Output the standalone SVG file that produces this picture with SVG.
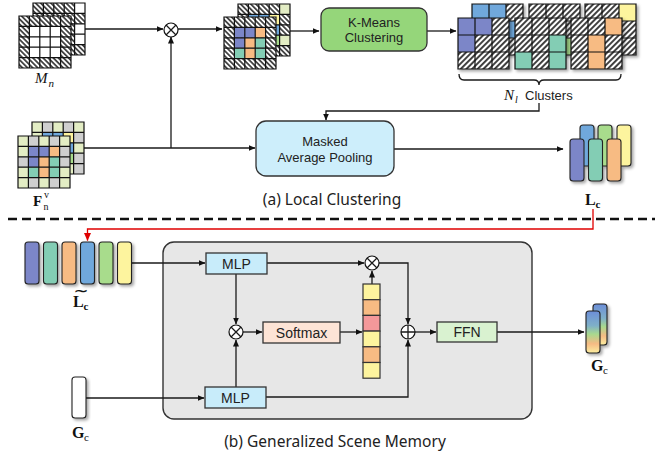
<svg xmlns="http://www.w3.org/2000/svg" xmlns:xlink="http://www.w3.org/1999/xlink" width="662" height="458" viewBox="0 0 662 458">
  <style>
    .ln { fill: none; stroke: #1a1a1a; stroke-width: 1.3; }
    .red { fill: none; stroke: #e00000; stroke-width: 1.3; }
    .box { stroke: #333; stroke-width: 1.3; }
    .sans { font-family: "Liberation Sans", Arial, sans-serif; fill: #222; }
    .cap { font-family: "Noto Sans", "Liberation Sans", sans-serif; fill: #222; }
    .math { font-family: "Liberation Serif", "Times New Roman", serif; fill: #111; }
    .col { stroke: #222; stroke-width: 1.1; }
    .grid { fill: none; stroke: #111; stroke-width: 1.2; }
    .op { fill: #fff; stroke: #111; stroke-width: 1.2; }
  </style>
  <defs>
    <pattern id="hatchA" width="3.6" height="3.6" patternUnits="userSpaceOnUse" patternTransform="rotate(-45)">
      <rect width="3.6" height="3.6" fill="#fff"/>
      <line x1="1.8" y1="0" x2="1.8" y2="3.6" stroke="#111" stroke-width="1.4"/>
    </pattern>
    <pattern id="hatchB" width="4" height="4" patternUnits="userSpaceOnUse" patternTransform="rotate(45)">
      <rect width="4" height="4" fill="#fff"/>
      <line x1="2" y1="0" x2="2" y2="4" stroke="#111" stroke-width="1.6"/>
    </pattern>
    <linearGradient id="gcGrad" x1="0" y1="0" x2="0" y2="1">
      <stop offset="0" stop-color="#6c8ed8"/>
      <stop offset="0.35" stop-color="#7fb0c8"/>
      <stop offset="0.55" stop-color="#a8d98e"/>
      <stop offset="0.78" stop-color="#f6bb84"/>
      <stop offset="1" stop-color="#fbeea0"/>
    </linearGradient>
    <filter id="sh" x="-30%" y="-30%" width="160%" height="160%">
      <feDropShadow dx="2" dy="2" stdDeviation="1.6" flood-color="#000" flood-opacity="0.35"/>
    </filter>
    <marker id="ar" markerWidth="7" markerHeight="6" refX="6.5" refY="3" orient="auto" markerUnits="userSpaceOnUse">
      <path d="M0,0 L7,3 L0,6 z" fill="#111"/>
    </marker>
    <marker id="arR" markerWidth="8" markerHeight="7" refX="7.5" refY="3.5" orient="auto" markerUnits="userSpaceOnUse">
      <path d="M0,0 L8,3.5 L0,7 z" fill="#e00000"/>
    </marker>
    <path id="g5" d="M0,0h52v52h-52z M10.4,0v52 M20.8,0v52 M31.2,0v52 M41.6,0v52 M0,10.4h52 M0,20.8h52 M0,31.2h52 M0,41.6h52"/>
    <path id="g3" d="M0,0h51v51h-51z M17,0v51 M34,0v51 M0,17h51 M0,34h51"/>
  </defs>

  <rect width="662" height="458" fill="#fff"/>

  <!-- generalized scene memory panel (drawn under its wiring) -->
  <g id="memory">
    <rect x="163" y="242" width="369" height="177" rx="11" fill="#e7e7e7" stroke="#333" stroke-width="1.4"/>
  </g>

  <!-- connectors -->
  <g id="connectors">
    <!-- local clustering -->
    <path class="ln" d="M85,29 H163" marker-end="url(#ar)"/>
    <path class="ln" d="M178,29 H222" marker-end="url(#ar)"/>
    <path class="ln" d="M83,148 H255" marker-end="url(#ar)"/>
    <path class="ln" d="M171,148 V37" marker-end="url(#ar)"/>
    <path class="ln" d="M290,31 H319" marker-end="url(#ar)"/>
    <path class="ln" d="M427,31 H456" marker-end="url(#ar)"/>
    <path class="ln" d="M539,103 V111 H326 V120" marker-end="url(#ar)"/>
    <path class="ln" d="M394,149 H563" marker-end="url(#ar)"/>
    <!-- cluster tokens into the scene memory -->
    <path class="red" d="M593,209 V229 H87.5 V240.5" marker-end="url(#arR)"/>
    <!-- generalized scene memory -->
    <path class="ln" d="M131,263 H205" marker-end="url(#ar)"/>
    <path class="ln" d="M86,398 H204" marker-end="url(#ar)"/>
    <path class="ln" d="M267,263 H364" marker-end="url(#ar)"/>
    <path class="ln" d="M236,274 V324" marker-end="url(#ar)"/>
    <path class="ln" d="M236,387 V340" marker-end="url(#ar)"/>
    <path class="ln" d="M243,332 H262" marker-end="url(#ar)"/>
    <path class="ln" d="M340,332 H362" marker-end="url(#ar)"/>
    <path class="ln" d="M372,284 V271" marker-end="url(#ar)"/>
    <path class="ln" d="M379,263 H408 V324" marker-end="url(#ar)"/>
    <path class="ln" d="M266,397 H408 V340" marker-end="url(#ar)"/>
    <path class="ln" d="M415,332 H436" marker-end="url(#ar)"/>
    <path class="ln" d="M497,332 H584" marker-end="url(#ar)"/>
  </g>

  <!-- section divider -->
  <line x1="8" y1="219" x2="655" y2="219" stroke="#111" stroke-width="2.5" stroke-dasharray="9 5"/>

  <!-- mask M_n -->
  <g id="mask">
    <g transform="translate(33,3)">
      <rect width="52" height="52" fill="url(#hatchA)"/>
      <rect x="41.6" y="0" width="10.4" height="10.4" fill="#fff"/>
      <rect x="41.6" y="20.8" width="10.4" height="20.8" fill="#fff"/>
      <use href="#g5" class="grid"/>
    </g>
    <g transform="translate(19,16)">
      <rect width="52" height="52" fill="url(#hatchA)"/>
      <rect x="10.4" y="10.4" width="31.2" height="31.2" fill="#fff"/>
      <use href="#g5" class="grid"/>
    </g>
    <text class="math" x="35" y="83" font-size="15" font-style="italic">M</text>
    <text class="math" x="48.5" y="87" font-size="11" font-style="italic">n</text>
  </g>

  <!-- multiply op -->
  <g id="mul-top">
    <circle class="op" cx="171" cy="30" r="7"/>
    <path class="ln" d="M166,25 L176,35 M176,25 L166,35" stroke-width="1.1"/>
  </g>

  <!-- masked features -->
  <g id="masked-features">
    <g transform="translate(238,4)">
      <rect width="52" height="52" fill="url(#hatchA)"/>
      <rect x="41.6" y="0" width="10.4" height="10.4" fill="#e3edc4"/>
      <rect x="41.6" y="31.2" width="10.4" height="10.4" fill="#e3edc4"/>
      <rect x="10.4" y="10.4" width="20.8" height="10.4" fill="#6fa8dc"/>
      <rect x="31.2" y="10.4" width="10.4" height="10.4" fill="#fdf49e"/>
      <rect x="31.2" y="20.8" width="10.4" height="10.4" fill="#6fa8dc"/>
      <rect x="31.2" y="31.2" width="10.4" height="10.4" fill="#a8dc8c"/>
      <use href="#g5" class="grid"/>
    </g>
    <g transform="translate(224,17)">
      <rect width="52" height="52" fill="url(#hatchA)"/>
      <rect x="10.4" y="10.4" width="10.4" height="10.4" fill="#7b86c8"/>
      <rect x="20.8" y="10.4" width="10.4" height="10.4" fill="#7b86c8"/>
      <rect x="31.2" y="10.4" width="10.4" height="10.4" fill="#f7bb83"/>
      <rect x="10.4" y="20.8" width="10.4" height="10.4" fill="#7b86c8"/>
      <rect x="20.8" y="20.8" width="10.4" height="10.4" fill="#f7bb83"/>
      <rect x="31.2" y="20.8" width="10.4" height="10.4" fill="#83cdb4"/>
      <rect x="10.4" y="31.2" width="10.4" height="10.4" fill="#83cdb4"/>
      <rect x="20.8" y="31.2" width="10.4" height="10.4" fill="#f7bb83"/>
      <rect x="31.2" y="31.2" width="10.4" height="10.4" fill="#83cdb4"/>
      <use href="#g5" class="grid"/>
    </g>
  </g>

  <!-- K-Means -->
  <g id="kmeans">
    <rect class="box" x="321" y="8" width="106" height="43" rx="8" fill="#95d67a"/>
    <text class="sans" x="374" y="27" font-size="13" text-anchor="middle">K-Means</text>
    <text class="sans" x="374" y="42" font-size="13" text-anchor="middle">Clustering</text>
  </g>

  <!-- clusters -->
  <g id="clusters">
    <g transform="translate(472,4)" filter="url(#sh)">
      <rect width="51" height="51" fill="url(#hatchB)"/>
      <rect x="0" y="0" width="34" height="17" fill="#6fa8dc"/>
      <rect x="34" y="17" width="17" height="17" fill="#6fa8dc"/>
      <use href="#g3" class="grid"/>
    </g>
    <g transform="translate(529,4)" filter="url(#sh)">
      <rect width="51" height="51" fill="url(#hatchB)"/>
      <rect x="34" y="34" width="17" height="17" fill="#a8dc8c"/>
      <use href="#g3" class="grid"/>
    </g>
    <g transform="translate(585,4)" filter="url(#sh)">
      <rect width="51" height="51" fill="url(#hatchB)"/>
      <rect x="34" y="0" width="17" height="17" fill="#fdf49e"/>
      <use href="#g3" class="grid"/>
    </g>
    <g transform="translate(458,18)" filter="url(#sh)">
      <rect width="51" height="51" fill="url(#hatchB)"/>
      <rect x="0" y="0" width="34" height="17" fill="#7b86c8"/>
      <rect x="0" y="17" width="17" height="17" fill="#7b86c8"/>
      <use href="#g3" class="grid"/>
    </g>
    <g transform="translate(515,18)" filter="url(#sh)">
      <rect width="51" height="51" fill="url(#hatchB)"/>
      <rect x="34" y="17" width="17" height="17" fill="#83cdb4"/>
      <rect x="0" y="34" width="17" height="17" fill="#83cdb4"/>
      <rect x="34" y="34" width="17" height="17" fill="#83cdb4"/>
      <use href="#g3" class="grid"/>
    </g>
    <g transform="translate(571,18)" filter="url(#sh)">
      <rect width="51" height="51" fill="url(#hatchB)"/>
      <rect x="34" y="0" width="17" height="17" fill="#f7bb83"/>
      <rect x="17" y="17" width="17" height="34" fill="#f7bb83"/>
      <use href="#g3" class="grid"/>
    </g>
    <path class="ln" d="M459,74 Q459,80 464,80 H534 Q539,80 539,85 Q539,80 544,80 H616 Q621,80 621,74"/>
    <text class="math" x="504" y="100" font-size="15" font-style="italic">N</text>
    <text class="math" x="515" y="103" font-size="10" font-style="italic">l</text>
    <text class="sans" x="525" y="100" font-size="13">Clusters</text>
  </g>

  <!-- visual features F_n^V -->
  <g id="features">
    <g transform="translate(32,122)">
      <rect width="52" height="52" fill="#e3edc4"/>
      <rect x="10.4" y="0" width="10.4" height="10.4" fill="#cfcfcf"/>
      <rect x="31.2" y="0" width="10.4" height="10.4" fill="#cfcfcf"/>
      <rect x="41.6" y="10.4" width="10.4" height="10.4" fill="#cfcfcf"/>
      <rect x="41.6" y="31.2" width="10.4" height="20.8" fill="#cfcfcf"/>
      <rect x="10.4" y="10.4" width="20.8" height="10.4" fill="#6fa8dc"/>
      <rect x="31.2" y="10.4" width="10.4" height="10.4" fill="#fdf49e"/>
      <rect x="31.2" y="20.8" width="10.4" height="10.4" fill="#6fa8dc"/>
      <rect x="31.2" y="31.2" width="10.4" height="10.4" fill="#a8dc8c"/>
      <use href="#g5" class="grid"/>
    </g>
    <g transform="translate(18,136)">
      <rect width="52" height="52" fill="#e3edc4"/>
      <rect x="10.4" y="0" width="10.4" height="10.4" fill="#cfcfcf"/>
      <rect x="31.2" y="0" width="10.4" height="10.4" fill="#cfcfcf"/>
      <rect x="41.6" y="10.4" width="10.4" height="20.8" fill="#cfcfcf"/>
      <rect x="0" y="20.8" width="10.4" height="10.4" fill="#cfcfcf"/>
      <rect x="10.4" y="41.6" width="10.4" height="10.4" fill="#cfcfcf"/>
      <rect x="31.2" y="41.6" width="10.4" height="10.4" fill="#cfcfcf"/>
      <rect x="10.4" y="10.4" width="10.4" height="10.4" fill="#7b86c8"/>
      <rect x="20.8" y="10.4" width="10.4" height="10.4" fill="#7b86c8"/>
      <rect x="31.2" y="10.4" width="10.4" height="10.4" fill="#f7bb83"/>
      <rect x="10.4" y="20.8" width="10.4" height="10.4" fill="#7b86c8"/>
      <rect x="20.8" y="20.8" width="10.4" height="10.4" fill="#f7bb83"/>
      <rect x="31.2" y="20.8" width="10.4" height="10.4" fill="#83cdb4"/>
      <rect x="10.4" y="31.2" width="10.4" height="10.4" fill="#83cdb4"/>
      <rect x="20.8" y="31.2" width="10.4" height="10.4" fill="#f7bb83"/>
      <rect x="31.2" y="31.2" width="10.4" height="10.4" fill="#83cdb4"/>
      <use href="#g5" class="grid"/>
    </g>
    <text class="math" x="33" y="206" font-size="15" font-weight="bold">F</text>
    <text class="math" x="44" y="198" font-size="10">v</text>
    <text class="math" x="43.5" y="210" font-size="10">n</text>
  </g>

  <!-- Masked Average Pooling -->
  <g id="map">
    <rect class="box" x="256" y="121" width="138" height="55" rx="10" fill="#cdeefb"/>
    <text class="sans" x="325" y="146" font-size="13" text-anchor="middle">Masked</text>
    <text class="sans" x="325" y="162" font-size="13" text-anchor="middle">Average Pooling</text>
  </g>

  <!-- local cluster tokens L_c -->
  <g id="lc">
    <g filter="url(#sh)">
      <rect class="col" x="580" y="125" width="14" height="41" rx="3" fill="#6fa8dc"/>
      <rect class="col" x="598" y="125" width="14" height="41" rx="3" fill="#a8dc8c"/>
      <rect class="col" x="617" y="125" width="14" height="41" rx="3" fill="#fdf49e"/>
      <rect class="col" x="570" y="139" width="14" height="42" rx="3" fill="#7b86c8"/>
      <rect class="col" x="588.5" y="139" width="14" height="42" rx="3" fill="#83cdb4"/>
      <rect class="col" x="607" y="139" width="14" height="42" rx="3" fill="#f7bb83"/>
    </g>
    <text class="math" x="585" y="205" font-size="16" font-weight="bold">L</text>
    <text class="math" x="595.5" y="208" font-size="11" font-weight="bold">c</text>
  </g>

  <text class="cap" x="332" y="205" font-size="15.5" text-anchor="middle">(a) Local Clustering</text>

  <!-- concatenated tokens L~c -->
  <g id="lc-tilde">
    <g filter="url(#sh)">
      <rect class="col" x="25" y="242" width="14" height="42" rx="3" fill="#7b86c8"/>
      <rect class="col" x="43.5" y="242" width="14" height="42" rx="3" fill="#83cdb4"/>
      <rect class="col" x="62" y="242" width="14" height="42" rx="3" fill="#f7bb83"/>
      <rect class="col" x="80.5" y="242" width="14" height="42" rx="3" fill="#6fa8dc"/>
      <rect class="col" x="99" y="242" width="14" height="42" rx="3" fill="#a8dc8c"/>
      <rect class="col" x="117.5" y="242" width="14" height="42" rx="3" fill="#fdf49e"/>
    </g>
    <text class="math" font-weight="bold"><tspan x="81" y="297" font-family="'DejaVu Sans', sans-serif" font-weight="normal" font-size="18" text-anchor="middle">~</tspan><tspan x="73" y="307" font-size="16">L</tspan><tspan x="83.5" y="310" font-size="11">c</tspan></text>
  </g>

  <!-- MLP blocks -->
  <g id="mlp-top">
    <rect class="box" x="206" y="253" width="61" height="21" fill="#c8ecfa"/>
    <text class="sans" x="236.5" y="268.5" font-size="14" text-anchor="middle">MLP</text>
  </g>
  <g id="mlp-bottom">
    <rect class="box" x="205" y="387" width="61" height="21" fill="#c8ecfa"/>
    <text class="sans" x="235.5" y="402.5" font-size="14" text-anchor="middle">MLP</text>
  </g>

  <g id="mul-mid">
    <circle class="op" cx="236" cy="332" r="7"/>
    <path class="ln" d="M231,327 L241,337 M241,327 L231,337" stroke-width="1.1"/>
  </g>
  <g id="mul-right">
    <circle class="op" cx="372" cy="263" r="7"/>
    <path class="ln" d="M367,258 L377,268 M377,258 L367,268" stroke-width="1.1"/>
  </g>
  <g id="add">
    <circle class="op" cx="408" cy="332" r="7"/>
    <path class="ln" d="M401,332 H415 M408,325 V339" stroke-width="1.1"/>
  </g>

  <g id="softmax">
    <rect class="box" x="263" y="322" width="77" height="21" fill="#fde4d6"/>
    <text class="sans" x="301.5" y="337.5" font-size="14" text-anchor="middle">Softmax</text>
  </g>

  <!-- attention weights -->
  <g id="weights" stroke="#333" stroke-width="1.2">
    <rect x="363" y="284" width="17" height="15.7" fill="#fdf49e"/>
    <rect x="363" y="299.7" width="17" height="15.7" fill="#f7bb83"/>
    <rect x="363" y="315.4" width="17" height="15.7" fill="#f4989a"/>
    <rect x="363" y="331.1" width="17" height="15.7" fill="#fdf49e"/>
    <rect x="363" y="346.8" width="17" height="15.7" fill="#f7bb83"/>
    <rect x="363" y="362.5" width="17" height="15.7" fill="#fdf49e"/>
  </g>

  <g id="ffn">
    <rect class="box" x="437" y="322" width="60" height="20" fill="#d9f2d0"/>
    <text class="sans" x="467" y="337" font-size="14" text-anchor="middle">FFN</text>
  </g>

  <!-- scene memory input G_c -->
  <g id="gc-in">
    <rect class="col" x="72" y="377" width="14" height="41" rx="3" fill="#fff" filter="url(#sh)"/>
    <text class="math" x="72" y="438" font-size="16" font-weight="bold">G</text>
    <text class="math" x="84" y="441" font-size="11">c</text>
  </g>

  <!-- updated scene memory G_c -->
  <g id="gc-out">
    <g filter="url(#sh)">
      <rect class="col" x="593" y="304" width="14" height="41" rx="3" fill="url(#gcGrad)"/>
      <rect class="col" x="586" y="311" width="14" height="42" rx="3" fill="url(#gcGrad)"/>
    </g>
    <text class="math" x="591" y="371" font-size="16" font-weight="bold">G</text>
    <text class="math" x="603" y="374" font-size="11">c</text>
  </g>

  <text class="cap" x="335" y="447" font-size="15.5" text-anchor="middle">(b) Generalized Scene Memory</text>
</svg>
